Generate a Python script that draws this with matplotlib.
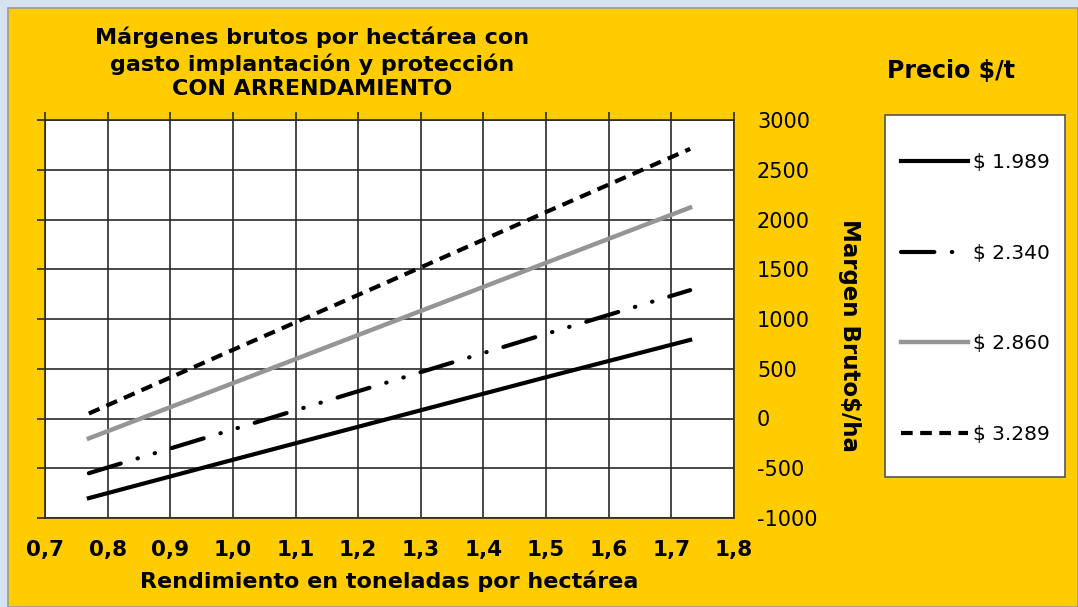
import matplotlib.pyplot as plt
from matplotlib.patches import Rectangle

# rendimiento (t/ha) y margen bruto ($/ha)
rendimiento = [0.77, 1.0, 1.25, 1.5, 1.73]
mb_1989 = [-800, -415, 0, 415, 790]
mb_2340 = [-550, -110, 370, 850, 1290]
mb_2860 = [-200, 355, 960, 1565, 2120]
mb_3289 = [50, 690, 1380, 2075, 2710]

precios = ["$ 1.989", "$ 2.340", "$ 2.860", "$ 3.289"]
x_ticks = [0.7, 0.8, 0.9, 1.0, 1.1, 1.2, 1.3, 1.4, 1.5, 1.6, 1.7, 1.8]
y_ticks = [-1000, -500, 0, 500, 1000, 1500, 2000, 2500, 3000]

W, H = 1078, 607
fig = plt.figure(figsize=(W / 100, H / 100), dpi=100)
fig.patch.set_facecolor('#d5e3f0')
fig.patches.append(Rectangle((8 / W, 0), 1 - 8 / W, 1 - 8 / H, transform=fig.transFigure,
                             facecolor='#ffcc00', edgecolor='#9a9a9a', lw=1.2, zorder=-5))

ax = fig.add_axes([45 / W, 1 - 518 / H, 689 / W, 398 / H])
ax.set_zorder(3)
ax.set_facecolor('white')

ax.plot(rendimiento, mb_1989, color='black', lw=3.0, label=precios[0])
ax.plot(rendimiento, mb_2340, color='black', lw=3.0, label=precios[1],
        linestyle=(0, (8.0, 4.2, 0.1, 4.2, 0.1, 4.2)), dash_capstyle='round')
ax.plot(rendimiento, mb_2860, color='#959595', lw=3.2, label=precios[2])
ax.plot(rendimiento, mb_3289, color='black', lw=3.0, label=precios[3],
        linestyle=(0, (2.8, 1.8)))

ax.set_xlim(0.7, 1.8)
ax.set_ylim(-1000, 3000)
ax.set_xticks(x_ticks)
ax.set_yticks(y_ticks)
ax.set_xticklabels([f"{v:.1f}".replace('.', ',') for v in x_ticks], fontsize=15.5, fontweight='bold')
ax.set_yticklabels([str(v) for v in y_ticks], fontsize=15)
for lbl, v in zip(ax.get_yticklabels(), y_ticks):
    if v < 0:
        lbl.set_color('#ff0000')

ax.grid(True, color='#2a2a2a', lw=1.2)
ax.set_axisbelow(True)
for s in ax.spines.values():
    s.set_color('#2a2a2a')
    s.set_linewidth(1.2)
ax.tick_params(axis='x', direction='out', length=5.5, width=1.2, color='#2a2a2a',
               top=True, bottom=False, labelbottom=True, pad=10)
ax.tick_params(axis='y', direction='out', length=5.5, width=1.2, color='#2a2a2a',
               left=True, right=False, labelleft=False, labelright=True, pad=11)

ax.set_xlabel("Rendimiento en toneladas por hectárea", fontsize=16, fontweight='bold', labelpad=8)
fig.text(850 / W, 1 - 335 / H, "Margen Bruto$/ha", rotation=-90, fontsize=16.5,
         fontweight='bold', ha='center', va='center')

fig.text(312 / W, 1 - 63 / H,
         "Márgenes brutos por hectárea con\ngasto implantación y protección\nCON ARRENDAMIENTO",
         fontsize=16, fontweight='bold', ha='center', va='center', linespacing=1.28)
fig.text(951 / W, 1 - 71 / H, "Precio $/t", fontsize=17, fontweight='bold', ha='center', va='center')

# caja de la leyenda
fig.patches.append(Rectangle((885 / W, 1 - 477 / H), 180 / W, 362 / H, transform=fig.transFigure,
                             facecolor='white', edgecolor='#555555', lw=1.2, zorder=1))
leg = fig.legend(loc='upper left', bbox_to_anchor=(883 / W, 1 - 135 / H), frameon=False,
                 fontsize=14.5, labelspacing=3.55, handlelength=3.3, handletextpad=0.27,
                 borderpad=0.4)
leg.set_zorder(4)

fig.savefig("out.png", dpi=100, facecolor=fig.get_facecolor())
